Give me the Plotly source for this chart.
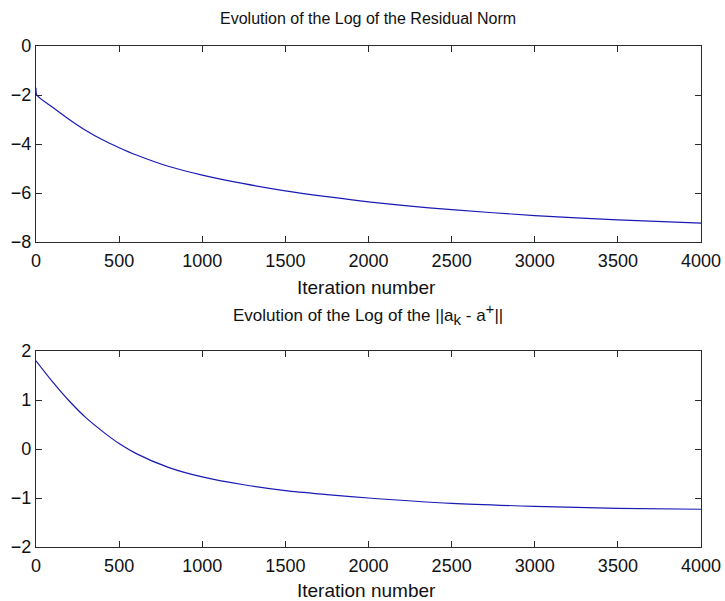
import plotly.graph_objects as go

# ---- data ----
iter_top = [0, 5, 100, 200, 300, 400, 500, 600, 800, 1000, 1250, 1500, 1750, 2000, 2500, 3000, 3500, 4000]
log_residual = [-1.70, -2.00, -2.50, -3.00, -3.45, -3.83, -4.15, -4.44, -4.92, -5.27, -5.62, -5.91, -6.15, -6.36, -6.68, -6.92, -7.10, -7.23]

iter_bot = [0, 100, 200, 300, 400, 500, 600, 800, 1000, 1250, 1500, 1750, 2000, 2500, 3000, 3500, 4000]
log_err = [1.80, 1.37, 0.98, 0.64, 0.36, 0.11, -0.09, -0.38, -0.57, -0.73, -0.85, -0.93, -1.00, -1.11, -1.17, -1.21, -1.23]

x_ticks = [0, 500, 1000, 1500, 2000, 2500, 3000, 3500, 4000]
y_ticks_top = [0, -2, -4, -6, -8]
y_ticks_bot = [2, 1, 0, -1, -2]

title_top = "Evolution of the Log of the Residual Norm"
title_bot = ("Evolution of the Log of the ||a<sub><span style='font-size:15px'>k</span></sub>"
             " - a<sup><span style='font-size:15px'>+</span></sup>||")
x_label = "Iteration number"

W, H = 725, 601
line_col = "#1a1ab4"
axis_col = "#2a2a2a"
font_fam = "Liberation Sans, Arial, sans-serif"

fig = go.Figure()
fig.add_trace(go.Scatter(x=iter_top, y=log_residual, mode="lines",
                         line=dict(color=line_col, width=1.2, shape="spline", smoothing=0.8),
                         xaxis="x", yaxis="y", showlegend=False))
fig.add_trace(go.Scatter(x=iter_bot, y=log_err, mode="lines",
                         line=dict(color=line_col, width=1.2, shape="spline", smoothing=0.8),
                         xaxis="x2", yaxis="y2", showlegend=False))

xd = [36 / W, 701 / W]
yd_top = [(H - 242) / H, (H - 46) / H]
yd_bot = [(H - 547) / H, (H - 351) / H]

common_axis = dict(showline=True, linecolor=axis_col, linewidth=1.3, mirror="ticks",
                   ticks="inside", ticklen=6, tickwidth=1.2, tickcolor=axis_col,
                   showgrid=False, zeroline=False, automargin=False,
                   tickfont=dict(size=18, color="#111111", family=font_fam))

fig.update_layout(
    width=W, height=H,
    margin=dict(l=0, r=0, t=0, b=0),
    paper_bgcolor="white", plot_bgcolor="white",
    font=dict(family=font_fam, color="#111111"),
    xaxis=dict(domain=xd, range=[0, 4000], tickvals=x_ticks, anchor="y", ticklabelstandoff=2, **common_axis),
    yaxis=dict(domain=yd_top, range=[-8, 0], tickvals=y_ticks_top, anchor="x", **common_axis),
    xaxis2=dict(domain=xd, range=[0, 4000], tickvals=x_ticks, anchor="y2", ticklabelstandoff=2, **common_axis),
    yaxis2=dict(domain=yd_bot, range=[-2, 2], tickvals=y_ticks_bot, anchor="x2", **common_axis),
)

annos = [
    dict(text=title_top, x=368 / W, y=(H - 19) / H, size=16),
    dict(text=title_bot, x=368 / W, y=(H - 314) / H, size=17),
    dict(text=x_label, x=366 / W, y=(H - 287) / H, size=19),
    dict(text=x_label, x=366 / W, y=(H - 590) / H, size=19),
]
for a in annos:
    fig.add_annotation(text=a["text"], x=a["x"], y=a["y"], xref="paper", yref="paper",
                       showarrow=False, xanchor="center", yanchor="middle",
                       font=dict(size=a["size"], color="#111111", family=font_fam))

fig.write_html("out.html")
